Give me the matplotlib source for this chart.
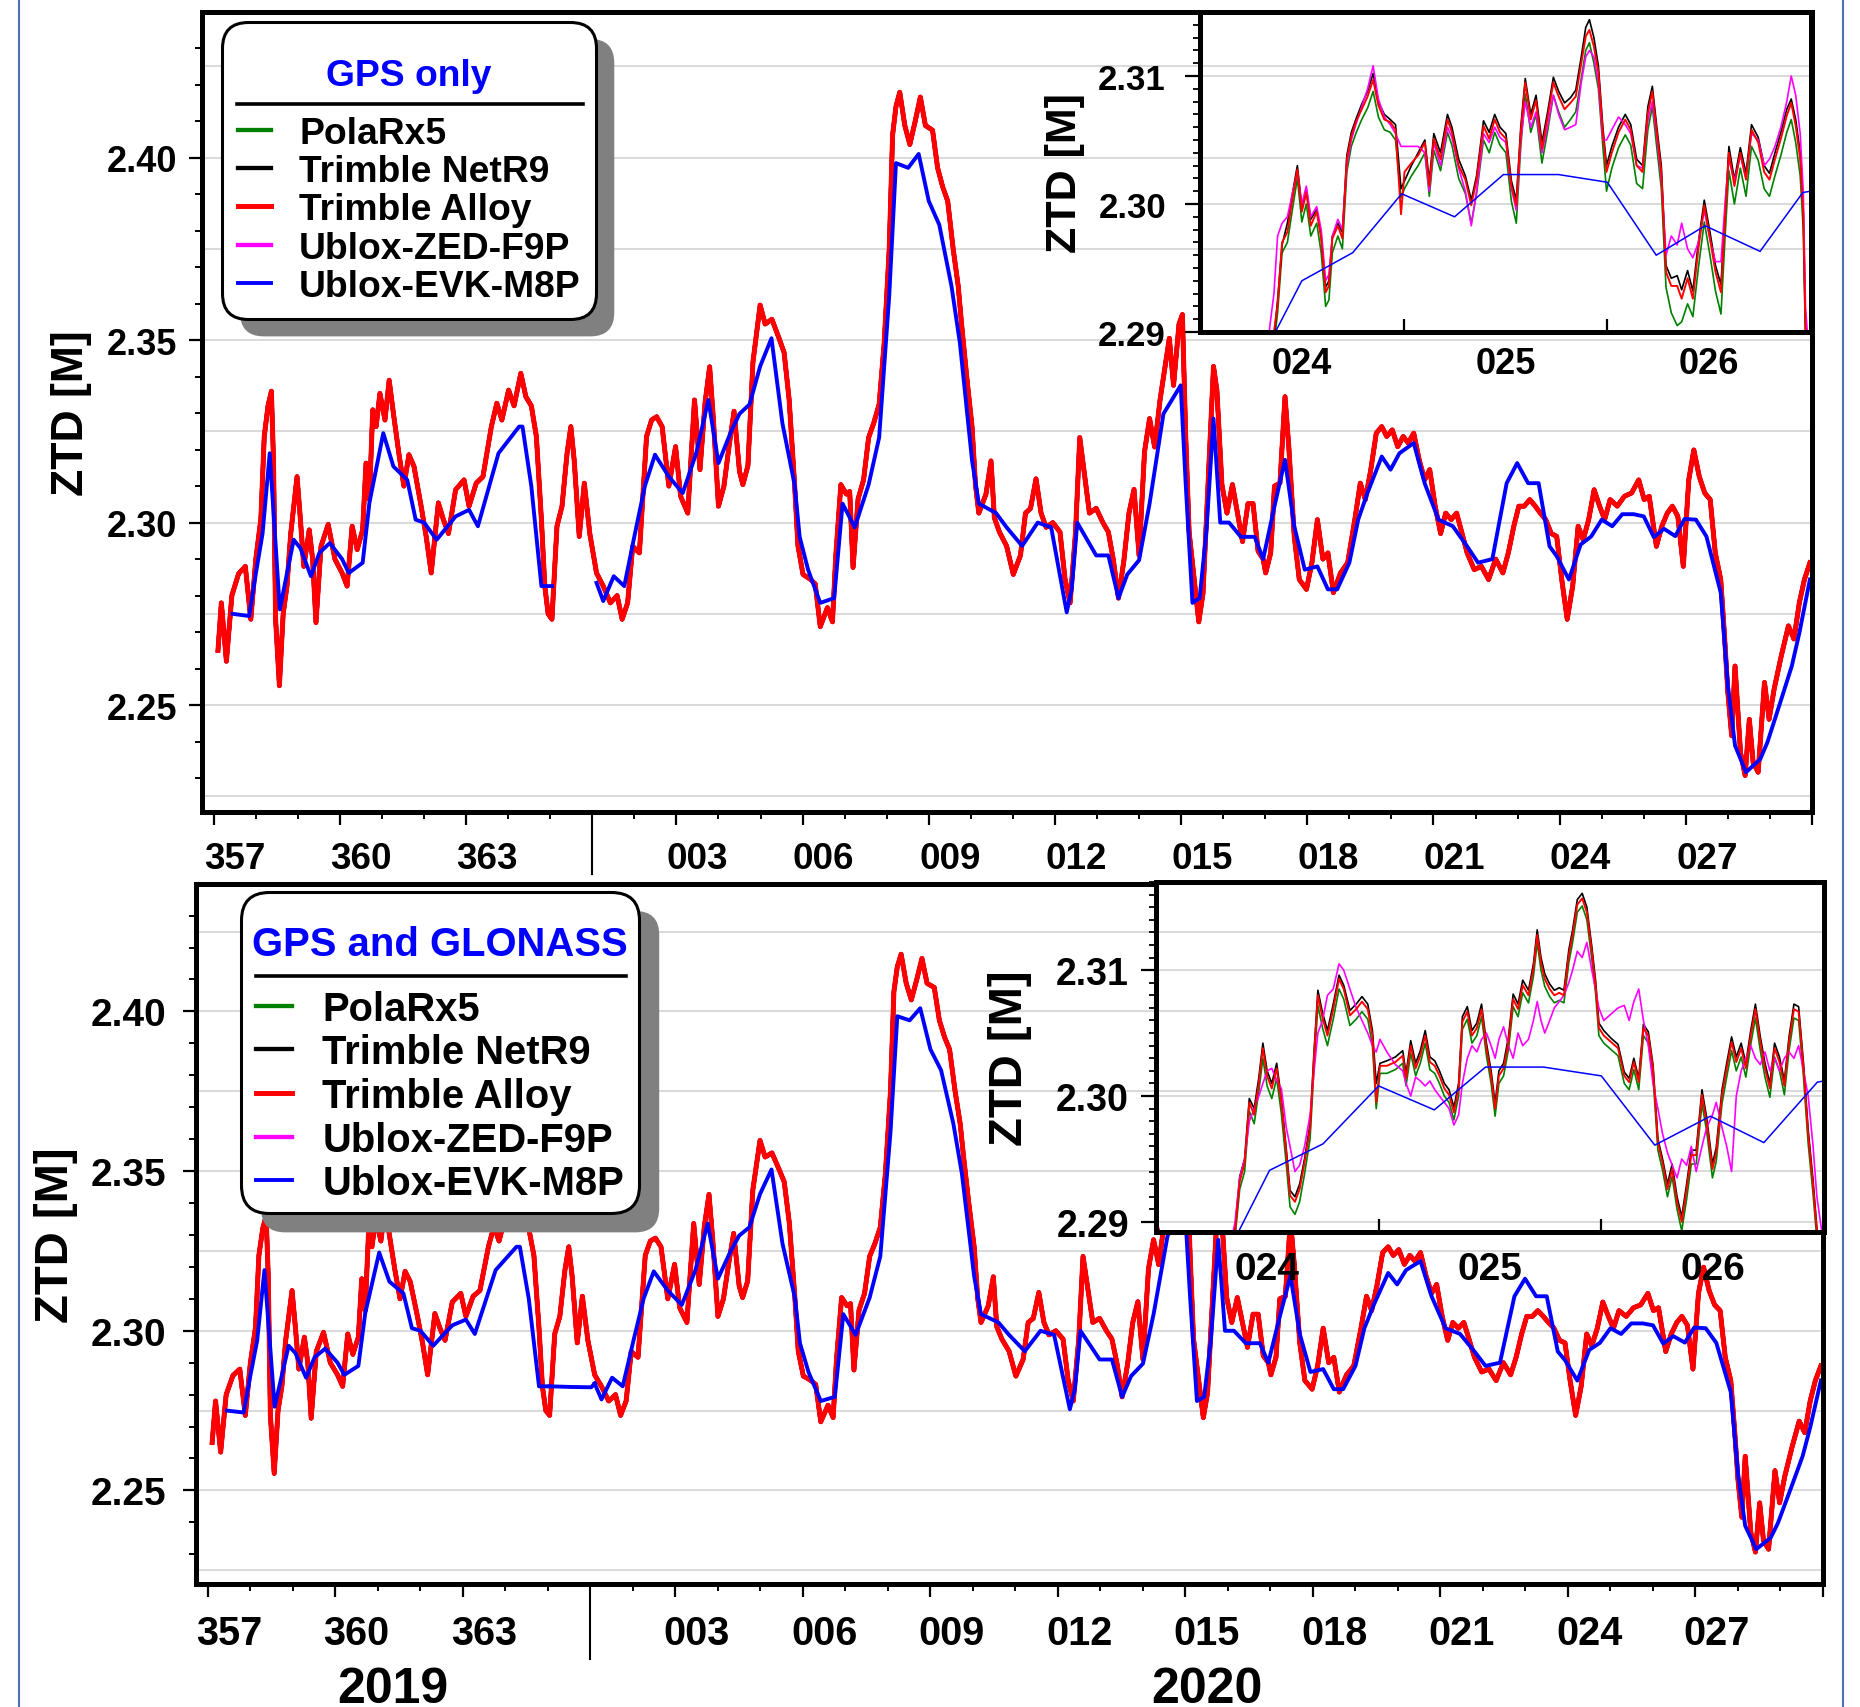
import numpy as np
import matplotlib.pyplot as plt
from matplotlib.lines import Line2D
from matplotlib.patches import FancyBboxPatch
from matplotlib.transforms import IdentityTransform, blended_transform_factory

plt.rcParams['font.family'] = ['Liberation Sans', 'DejaVu Sans']
plt.rcParams['font.weight'] = 'bold'
plt.rcParams['axes.labelweight'] = 'bold'

receivers = ['PolaRx5', 'Trimble NetR9', 'Trimble Alloy', 'Ublox-ZED-F9P', 'Ublox-EVK-M8P']
colors = ['#008000', 'black', 'red', 'magenta', 'blue']

# running day number: 2019 DOY, then 2020 continues at 366 (= 001)
year_start_2020 = 366
label_days = [357, 360, 363, 368, 371, 374, 377, 380, 383, 386, 389, 392]
day_labels = ['357', '360', '363', '003', '006', '009', '012', '015', '018', '021', '024', '027']
major_days = [357, 360, 363, 368, 371, 374, 377, 380, 383, 386, 389, 392, 395]
zoom_labels = ['024', '025', '026']
ztd_ticks = [2.25, 2.30, 2.35, 2.40]
grid_levels = [2.225, 2.25, 2.275, 2.30, 2.325, 2.35, 2.375, 2.40, 2.425]

# ---- ZTD over the whole campaign (PolaRx5 / NetR9 / Alloy / ZED-F9P overlap at this scale)
days_main = [
    357.10, 357.18, 357.30, 357.43, 357.59, 357.75, 357.88, 358.00, 358.12, 358.20,
    358.29, 358.37, 358.42, 358.47, 358.56, 358.65, 358.74, 358.83, 358.98, 359.06,
    359.14, 359.27, 359.35, 359.43, 359.55, 359.72, 359.88, 360.05, 360.17, 360.29,
    360.41, 360.54, 360.62, 360.70, 360.78, 360.86, 360.95, 361.07, 361.17, 361.27,
    361.40, 361.52, 361.64, 361.76, 361.93, 362.05, 362.17, 362.34, 362.46, 362.58,
    362.75, 362.95, 363.07, 363.24, 363.40, 363.52, 363.60, 363.73, 363.85, 364.01,
    364.14, 364.30, 364.42, 364.55, 364.67, 364.79, 364.87, 364.95, 365.04, 365.16,
    365.28, 365.40, 365.49, 365.57, 365.69, 365.81, 365.94, 366.10, 366.26, 366.43,
    366.59, 366.71, 366.84, 366.96, 367.12, 367.29, 367.41, 367.53, 367.66, 367.82,
    367.98, 368.10, 368.27, 368.43, 368.56, 368.68, 368.79, 368.88, 369.00, 369.13,
    369.25, 369.37, 369.50, 369.58, 369.70, 369.82, 369.99, 370.11, 370.27, 370.44,
    370.56, 370.68, 370.81, 370.89, 371.01, 371.18, 371.30, 371.42, 371.59, 371.71,
    371.79, 371.91, 372.04, 372.12, 372.20, 372.32, 372.45, 372.57, 372.69, 372.82,
    372.94, 373.06, 373.14, 373.22, 373.31, 373.43, 373.55, 373.68, 373.80, 373.92,
    374.09, 374.21, 374.33, 374.45, 374.58, 374.70, 374.78, 374.90, 375.03, 375.11,
    375.19, 375.36, 375.48, 375.56, 375.68, 375.85, 376.01, 376.18, 376.30, 376.42,
    376.55, 376.67, 376.79, 376.95, 377.12, 377.24, 377.36, 377.49, 377.59, 377.69,
    377.82, 377.98, 378.14, 378.27, 378.39, 378.51, 378.64, 378.76, 378.88, 379.00,
    379.13, 379.25, 379.37, 379.50, 379.62, 379.72, 379.82, 379.95, 380.03, 380.11,
    380.19, 380.31, 380.42, 380.52, 380.64, 380.77, 380.85, 380.97, 381.09, 381.22,
    381.34, 381.46, 381.59, 381.71, 381.83, 381.95, 382.01, 382.13, 382.22, 382.35,
    382.47, 382.56, 382.69, 382.81, 382.98, 383.11, 383.24, 383.37, 383.49, 383.62,
    383.79, 383.96, 384.13, 384.26, 384.38, 384.51, 384.64, 384.77, 384.89, 385.02,
    385.15, 385.28, 385.40, 385.53, 385.66, 385.79, 385.91, 386.04, 386.17, 386.29,
    386.42, 386.55, 386.68, 386.80, 386.97, 387.14, 387.31, 387.48, 387.65, 387.78,
    387.91, 388.03, 388.16, 388.29, 388.42, 388.54, 388.67, 388.80, 388.93, 389.05,
    389.18, 389.31, 389.44, 389.56, 389.69, 389.82, 389.95, 390.07, 390.20, 390.37,
    390.54, 390.71, 390.88, 391.01, 391.13, 391.30, 391.43, 391.56, 391.68, 391.81,
    391.94, 392.07, 392.19, 392.32, 392.45, 392.58, 392.70, 392.83, 392.92, 393.00,
    393.09, 393.17, 393.30, 393.41, 393.51, 393.60, 393.72, 393.87, 393.98, 394.10,
    394.27, 394.44, 394.57, 394.70, 394.82, 394.95,
]
ztd_main = [
    2.2650, 2.2780, 2.2620, 2.2800, 2.2860, 2.2880, 2.2735, 2.2900, 2.3010, 2.3236,
    2.3320, 2.3360, 2.3170, 2.2735, 2.2553, 2.2750, 2.2826, 2.2970, 2.3126, 2.3008,
    2.2880, 2.2980, 2.2900, 2.2726, 2.2935, 2.2995, 2.2900, 2.2862, 2.2826, 2.2990,
    2.2926, 2.2980, 2.3163, 2.3063, 2.3309, 2.3263, 2.3354, 2.3281, 2.3390, 2.3300,
    2.3190, 2.3100, 2.3186, 2.3154, 2.3045, 2.2962, 2.2862, 2.3054, 2.3008, 2.2970,
    2.3090, 2.3117, 2.3045, 2.3108, 2.3126, 2.3208, 2.3263, 2.3327, 2.3281, 2.3363,
    2.3320, 2.3409, 2.3345, 2.3320, 2.3236, 2.3008, 2.2826, 2.2750, 2.2735, 2.2990,
    2.3045, 2.3190, 2.3263, 2.3170, 2.2962, 2.3108, 2.2970, 2.2862, 2.2826, 2.2780,
    2.2800, 2.2735, 2.2780, 2.2935, 2.2917, 2.3236, 2.3281, 2.3290, 2.3263, 2.3100,
    2.3208, 2.3072, 2.3026, 2.3336, 2.3145, 2.3327, 2.3427, 2.3281, 2.3045, 2.3100,
    2.3208, 2.3305, 2.3140, 2.3104, 2.3156, 2.3440, 2.3596, 2.3544, 2.3557, 2.3505,
    2.3466, 2.3337, 2.3104, 2.2936, 2.2858, 2.2845, 2.2832, 2.2715, 2.2767, 2.2728,
    2.2910, 2.3104, 2.3078, 2.3085, 2.2877, 2.3065, 2.3117, 2.3233, 2.3272, 2.3324,
    2.3492, 2.3750, 2.4062, 2.4140, 2.4179, 2.4088, 2.4036, 2.4101, 2.4166, 2.4088,
    2.4075, 2.3972, 2.3920, 2.3881, 2.3750, 2.3648, 2.3544, 2.3402, 2.3261, 2.3104,
    2.3026, 2.3078, 2.3169, 2.3013, 2.2974, 2.2936, 2.2858, 2.2910, 2.3026, 2.3039,
    2.3120, 2.3026, 2.2987, 2.3000, 2.2974, 2.2845, 2.2780, 2.2974, 2.3233, 2.3143,
    2.3026, 2.3039, 2.3000, 2.2974, 2.2897, 2.2793, 2.2897, 2.3026, 2.3091, 2.2910,
    2.3194, 2.3285, 2.3207, 2.3337, 2.3428, 2.3505, 2.3376, 2.3544, 2.3570, 2.3233,
    2.2974, 2.2845, 2.2728, 2.2806, 2.3104, 2.3428, 2.3363, 2.3104, 2.3026, 2.3104,
    2.3026, 2.2948, 2.3052, 2.3052, 2.2922, 2.2900, 2.2862, 2.2917, 2.3100, 2.3108,
    2.3345, 2.3208, 2.2962, 2.2844, 2.2817, 2.2890, 2.3008, 2.2900, 2.2917, 2.2808,
    2.2862, 2.2890, 2.3008, 2.3108, 2.3063, 2.3145, 2.3245, 2.3263, 2.3236, 2.3254,
    2.3208, 2.3236, 2.3218, 2.3245, 2.3172, 2.3117, 2.3145, 2.3045, 2.2970, 2.3026,
    2.3008, 2.3026, 2.2970, 2.2917, 2.2871, 2.2880, 2.2844, 2.2900, 2.2862, 2.2917,
    2.2990, 2.3045, 2.3045, 2.3063, 2.3045, 2.3026, 2.3008, 2.2970, 2.2962, 2.2844,
    2.2735, 2.2826, 2.2990, 2.2953, 2.3008, 2.3090, 2.3045, 2.3008, 2.3063, 2.3045,
    2.3072, 2.3081, 2.3117, 2.3063, 2.3072, 2.2935, 2.2990, 2.3026, 2.3045, 2.3017,
    2.2880, 2.3117, 2.3199, 2.3126, 2.3081, 2.3063, 2.2917, 2.2844, 2.2689, 2.2534,
    2.2416, 2.2607, 2.2370, 2.2307, 2.2461, 2.2343, 2.2316, 2.2562, 2.2461, 2.2544,
    2.2635, 2.2717, 2.2681, 2.2781, 2.2844, 2.2890,
]

# Ublox-EVK-M8P, sparser; no GPS-only solution around the turn of the year
days_m8p = [
    357.45, 357.84, 358.00, 358.16, 358.33, 358.57, 358.90, 359.06, 359.31, 359.51,
    359.76, 360.05, 360.21, 360.54, 360.70, 361.03, 361.27, 361.60, 361.80, 362.00,
    362.30, 362.75, 363.07, 363.28, 363.77, 364.26, 364.34, 364.55, 364.79, 365.04,
    365.50, 366.10, 366.26, 366.51, 366.76, 367.00, 367.25, 367.49, 367.82, 368.15,
    368.47, 368.76, 369.00, 369.29, 369.50, 369.74, 369.99, 370.26, 370.52, 370.81,
    370.93, 371.13, 371.42, 371.75, 371.95, 372.24, 372.57, 372.82, 373.06, 373.22,
    373.51, 373.76, 374.00, 374.25, 374.54, 374.74, 375.03, 375.19, 375.60, 375.85,
    376.22, 376.59, 376.91, 377.28, 377.40, 377.53, 377.98, 378.27, 378.51, 378.72,
    379.00, 379.25, 379.58, 379.99, 380.11, 380.27, 380.44, 380.60, 380.77, 380.93,
    381.14, 381.42, 381.75, 381.95, 382.22, 382.47, 382.69, 382.94, 383.24, 383.49,
    383.71, 384.00, 384.21, 384.43, 384.77, 384.98, 385.19, 385.53, 385.79, 386.12,
    386.46, 386.80, 387.06, 387.40, 387.74, 387.99, 388.25, 388.50, 388.76, 388.93,
    389.22, 389.50, 389.75, 390.00, 390.25, 390.49, 390.76, 391.00, 391.24, 391.48,
    391.75, 391.97, 392.24, 392.49, 392.83, 393.00, 393.17, 393.43, 393.77, 393.94,
    394.27, 394.52, 394.70, 394.95,
]
ztd_m8p = [
    2.2750, 2.2744, 2.2860, 2.2970, 2.3190, 2.2762, 2.2953, 2.2930, 2.2853, 2.2917,
    2.2944, 2.2900, 2.2862, 2.2890, 2.3054, 2.3245, 2.3154, 2.3117, 2.3008, 2.3000,
    2.2953, 2.3017, 2.3035, 2.2990, 2.3190, 2.3263, 2.3263, 2.3100, 2.2826, 2.2826,
    np.nan, 2.2835, 2.2785, 2.2853, 2.2826, 2.2962, 2.3100, 2.3186, 2.3126, 2.3081,
    2.3190, 2.3336, 2.3163, 2.3247, 2.3298, 2.3324, 2.3428, 2.3505, 2.3272, 2.3104,
    2.2961, 2.2871, 2.2780, 2.2793, 2.3052, 2.2987, 2.3104, 2.3233, 2.3622, 2.3985,
    2.3972, 2.4010, 2.3881, 2.3816, 2.3648, 2.3492, 2.3169, 2.3052, 2.3026, 2.2987,
    2.2936, 2.3000, 2.2987, 2.2754, 2.2819, 2.3000, 2.2910, 2.2910, 2.2793, 2.2858,
    2.2897, 2.3052, 2.3298, 2.3376, 2.3104, 2.2780, 2.2793, 2.2974, 2.3285, 2.3000,
    2.3000, 2.2961, 2.2961, 2.2900, 2.3045, 2.3172, 2.2990, 2.2871, 2.2880, 2.2817,
    2.2817, 2.2890, 2.3008, 2.3081, 2.3181, 2.3145, 2.3190, 2.3218, 2.3108, 2.3008,
    2.2990, 2.2935, 2.2890, 2.2900, 2.3108, 2.3163, 2.3108, 2.3108, 2.2935, 2.2908,
    2.2844, 2.2940, 2.2962, 2.3008, 2.2990, 2.3023, 2.3023, 2.3017, 2.2960, 2.2983,
    2.2963, 2.3010, 2.3008, 2.2962, 2.2808, 2.2553, 2.2389, 2.2316, 2.2352, 2.2398,
    2.2516, 2.2607, 2.2698, 2.2844,
]
# GPS+GLONASS M8P bridges the new-year gap
days_m8p_glo_gap = [365.04, 365.55, 366.02, 366.10]
ztd_m8p_glo_gap = [2.2826, 2.2824, 2.2823, 2.2835]

# ---- close-up, DOY 024-026, GPS only
days_zoom_gps = [
    389.00, 389.18, 389.30,
    389.363, 389.381, 389.403, 389.429, 389.456, 389.478, 389.500, 389.522, 389.544, 389.573,
    389.595, 389.617, 389.633, 389.650, 389.677, 389.699, 389.721, 389.743, 389.765, 389.794,
    389.823, 389.850, 389.876, 389.905, 389.934, 389.960, 389.987, 390.004, 390.038, 390.071,
    390.104, 390.126, 390.148, 390.181, 390.215, 390.237, 390.270, 390.303, 390.332, 390.358,
    390.392, 390.420, 390.447, 390.473, 390.502, 390.529, 390.553, 390.575, 390.597, 390.624,
    390.650, 390.679, 390.708, 390.735, 390.761, 390.790, 390.819, 390.845, 390.872, 390.894,
    390.912, 390.934, 390.956, 390.978, 390.996, 391.022, 391.055, 391.088, 391.115, 391.144,
    391.173, 391.199, 391.221, 391.243, 391.265, 391.288, 391.314, 391.343, 391.365, 391.394,
    391.420, 391.447, 391.476, 391.504, 391.531, 391.558, 391.580, 391.597, 391.624, 391.653,
    391.681, 391.708, 391.741, 391.770, 391.796, 391.823, 391.852, 391.881, 391.903, 391.925,
    391.947, 391.962, 391.973, 392.000,
]
zoom_gps_polarx = [
    2.2900, 2.2730, 2.2825,
    2.2890, 2.2915, 2.2962, 2.2970, 2.2998, 2.3020, 2.2986, 2.3000, 2.2975, 2.2985,
    2.2962, 2.2920, 2.2925, 2.2962, 2.2975, 2.2965, 2.3025, 2.3045, 2.3055, 2.3066,
    2.3075, 2.3088, 2.3068, 2.3058, 2.3056, 2.3050, 2.3005, 2.3012, 2.3022, 2.3030,
    2.3040, 2.3006, 2.3042, 2.3026, 2.3056, 2.3046, 2.3020, 2.3008, 2.2985, 2.3008,
    2.3050, 2.3040, 2.3056, 2.3046, 2.3040, 2.3002, 2.2985, 2.3045, 2.3086, 2.3056,
    2.3070, 2.3032, 2.3058, 2.3085, 2.3072, 2.3060, 2.3066, 2.3072, 2.3098, 2.3120,
    2.3126, 2.3110, 2.3090, 2.3045, 2.3010, 2.3028, 2.3044, 2.3054, 2.3046, 2.3016,
    2.3012, 2.3058, 2.3076, 2.3044, 2.3012, 2.2935, 2.2915, 2.2905, 2.2908, 2.2922,
    2.2912, 2.2950, 2.2986, 2.2960, 2.2932, 2.2914, 2.2980, 2.3026, 2.3000, 2.3028,
    2.3006, 2.3045, 2.3034, 2.3012, 2.3006, 2.3022, 2.3038, 2.3056, 2.3066, 2.3048,
    2.3022, 2.2980, 2.2895, 2.2845,
]
zoom_gps_netr9 = [
    2.2902, 2.2735, 2.2830,
    2.2895, 2.2925, 2.2968, 2.2985, 2.3010, 2.3030, 2.2998, 2.3012, 2.2988, 2.2996,
    2.2975, 2.2935, 2.2940, 2.2975, 2.2985, 2.2978, 2.3038, 2.3056, 2.3066, 2.3078,
    2.3088, 2.3102, 2.3080, 2.3070, 2.3066, 2.3062, 2.3012, 2.3018, 2.3030, 2.3040,
    2.3050, 2.3018, 2.3055, 2.3040, 2.3070, 2.3060, 2.3035, 2.3022, 2.3003, 2.3022,
    2.3065, 2.3056, 2.3070, 2.3060, 2.3055, 2.3018, 2.3003, 2.3060, 2.3098, 2.3070,
    2.3085, 2.3048, 2.3073, 2.3099, 2.3088, 2.3079, 2.3083, 2.3089, 2.3115, 2.3138,
    2.3144, 2.3130, 2.3108, 2.3060, 2.3030, 2.3045, 2.3060, 2.3070, 2.3062, 2.3035,
    2.3030, 2.3076, 2.3092, 2.3060, 2.3030, 2.2952, 2.2942, 2.2944, 2.2933, 2.2948,
    2.2932, 2.2970, 2.3003, 2.2978, 2.2952, 2.2937, 2.2999, 2.3045, 2.3019, 2.3044,
    2.3024, 2.3062, 2.3052, 2.3030, 2.3024, 2.3040, 2.3056, 2.3074, 2.3082, 2.3066,
    2.3040, 2.2996, 2.2905, 2.2855,
]
zoom_gps_alloy = [
    2.2902, 2.2735, 2.2830,
    2.2900, 2.2921, 2.2970, 2.2978, 2.3006, 2.3027, 2.2994, 2.3009, 2.2983, 2.2994,
    2.2973, 2.2931, 2.2936, 2.2973, 2.2983, 2.2973, 2.3035, 2.3053, 2.3064, 2.3074,
    2.3084, 2.3097, 2.3077, 2.3066, 2.3064, 2.3058, 2.2992, 2.3025, 2.3032, 2.3038,
    2.3048, 2.3014, 2.3051, 2.3035, 2.3066, 2.3056, 2.3030, 2.3019, 2.2999, 2.3019,
    2.3061, 2.3051, 2.3066, 2.3056, 2.3051, 2.3014, 2.2999, 2.3056, 2.3095, 2.3066,
    2.3081, 2.3043, 2.3069, 2.3095, 2.3084, 2.3074, 2.3079, 2.3084, 2.3110, 2.3131,
    2.3136, 2.3123, 2.3103, 2.3056, 2.3025, 2.3040, 2.3056, 2.3066, 2.3058, 2.3030,
    2.3025, 2.3071, 2.3088, 2.3056, 2.3025, 2.2947, 2.2936, 2.2936, 2.2926, 2.2942,
    2.2926, 2.2965, 2.2999, 2.2973, 2.2947, 2.2931, 2.2994, 2.3040, 2.3014, 2.3040,
    2.3019, 2.3058, 2.3048, 2.3025, 2.3019, 2.3035, 2.3051, 2.3069, 2.3079, 2.3061,
    2.3035, 2.2992, 2.2900, 2.2850,
]
zoom_gps_zed = [
    2.2905, 2.2740, 2.2850,
    2.2930, 2.2975, 2.2985, 2.2990, 2.3010, 2.3025, 2.3000, 2.3014, 2.2990, 2.2998,
    2.2980, 2.2940, 2.2945, 2.2975, 2.2988, 2.2980, 2.3030, 2.3050, 2.3062, 2.3076,
    2.3090, 2.3108, 2.3082, 2.3068, 2.3062, 2.3055, 2.3045, 2.3045, 2.3045, 2.3045,
    2.3040, 2.3010, 2.3048, 2.3030, 2.3060, 2.3052, 2.3028, 2.3010, 2.2983, 2.3010,
    2.3055, 2.3048, 2.3060, 2.3052, 2.3048, 2.3012, 2.2995, 2.3050, 2.3080, 2.3060,
    2.3072, 2.3040, 2.3062, 2.3085, 2.3070, 2.3058, 2.3060, 2.3062, 2.3095, 2.3115,
    2.3120, 2.3115, 2.3095, 2.3050, 2.3050, 2.3058, 2.3068, 2.3062, 2.3055, 2.3030,
    2.3028, 2.3065, 2.3080, 2.3052, 2.3020, 2.2960, 2.2975, 2.2968, 2.2985, 2.2965,
    2.2958, 2.2970, 2.2995, 2.2972, 2.2955, 2.2955, 2.3005, 2.3035, 2.3018, 2.3038,
    2.3020, 2.3055, 2.3050, 2.3030, 2.3035, 2.3045, 2.3060, 2.3080, 2.3100, 2.3085,
    2.3055, 2.3010, 2.2920, 2.2860,
]
days_zoom_gps_m8p = [389.00, 389.22, 389.37, 389.50, 389.75, 389.99, 390.25, 390.49,
                     390.76, 391.00, 391.24, 391.48, 391.75, 391.96, 392.00]
zoom_gps_m8p = [2.2895, 2.2844, 2.2900, 2.2940, 2.2962, 2.3008, 2.2990, 2.3023,
                2.3023, 2.3017, 2.2960, 2.2983, 2.2963, 2.3009, 2.3010]

# ---- close-up, DOY 024-026, GPS + GLONASS
days_zoom_glo = [
    389.00, 389.18, 389.30,
    389.355, 389.376, 389.398, 389.419, 389.441, 389.462, 389.480, 389.499, 389.520, 389.542,
    389.563, 389.585, 389.602, 389.624, 389.645, 389.667, 389.692, 389.710, 389.727, 389.748,
    389.770, 389.796, 389.822, 389.843, 389.871, 389.899, 389.925, 389.951, 389.972, 389.989,
    390.006, 390.037, 390.075, 390.108, 390.123, 390.144, 390.166, 390.187, 390.209, 390.230,
    390.252, 390.273, 390.295, 390.316, 390.338, 390.359, 390.376, 390.398, 390.419, 390.441,
    390.462, 390.484, 390.505, 390.523, 390.540, 390.561, 390.583, 390.604, 390.626, 390.647,
    390.673, 390.695, 390.712, 390.729, 390.746, 390.768, 390.789, 390.811, 390.832, 390.854,
    390.871, 390.892, 390.914, 390.935, 390.957, 390.974, 390.989, 391.011, 391.043, 391.075,
    391.103, 391.125, 391.146, 391.168, 391.189, 391.211, 391.232, 391.254, 391.275, 391.297,
    391.318, 391.340, 391.361, 391.383, 391.404, 391.426, 391.452, 391.473, 391.499, 391.516,
    391.542, 391.563, 391.585, 391.606, 391.628, 391.649, 391.671, 391.692, 391.714, 391.735,
    391.757, 391.778, 391.800, 391.822, 391.843, 391.865, 391.886, 391.908, 391.929, 391.951,
    391.968, 392.000,
]
zoom_glo_polarx = [
    2.2900, 2.2730, 2.2825,
    2.2888, 2.2926, 2.2940, 2.2988, 2.2978, 2.3004, 2.3030, 2.3008, 2.2998, 2.3014,
    2.2986, 2.2946, 2.2912, 2.2906, 2.2916, 2.2938, 2.2966, 2.3024, 2.3072, 2.3054,
    2.3040, 2.3061, 2.3085, 2.3077, 2.3056, 2.3061, 2.3067, 2.3061, 2.3040, 2.2990,
    2.3018, 2.3018, 2.3021, 2.3026, 2.3008, 2.3034, 2.3016, 2.3026, 2.3042, 2.3021,
    2.3018, 2.3010, 2.3000, 2.2995, 2.2981, 2.3000, 2.3053, 2.3061, 2.3042, 2.3048,
    2.3063, 2.3032, 2.3010, 2.2984, 2.3010, 2.3016, 2.3037, 2.3071, 2.3063, 2.3082,
    2.3074, 2.3095, 2.3122, 2.3100, 2.3087, 2.3079, 2.3074, 2.3076, 2.3074, 2.3106,
    2.3122, 2.3146, 2.3151, 2.3140, 2.3109, 2.3082, 2.3048, 2.3042, 2.3037, 2.3032,
    2.3010, 2.3005, 2.3021, 2.3005, 2.3048, 2.3042, 2.3016, 2.2957, 2.2941, 2.2920,
    2.2936, 2.2910, 2.2893, 2.2918, 2.2946, 2.2946, 2.2994, 2.2972, 2.2935, 2.2948,
    2.2994, 2.3015, 2.3036, 2.3020, 2.3031, 2.3015, 2.3041, 2.3062, 2.3036, 2.3015,
    2.2999, 2.3031, 2.3020, 2.3001, 2.3036, 2.3062, 2.3060, 2.3015, 2.2962, 2.2922,
    2.2886, 2.2845,
]
zoom_glo_netr9 = [
    2.2905, 2.2735, 2.2830,
    2.2895, 2.2936, 2.2950, 2.2998, 2.2990, 2.3015, 2.3042, 2.3020, 2.3010, 2.3026,
    2.2998, 2.2958, 2.2925, 2.2920, 2.2930, 2.2950, 2.2978, 2.3036, 2.3084, 2.3066,
    2.3052, 2.3073, 2.3096, 2.3088, 2.3068, 2.3073, 2.3079, 2.3073, 2.3052, 2.3010,
    2.3026, 2.3028, 2.3031, 2.3036, 2.3018, 2.3044, 2.3026, 2.3036, 2.3052, 2.3031,
    2.3028, 2.3020, 2.3010, 2.3005, 2.2991, 2.3010, 2.3063, 2.3071, 2.3052, 2.3058,
    2.3073, 2.3042, 2.3020, 2.2994, 2.3020, 2.3026, 2.3047, 2.3081, 2.3073, 2.3092,
    2.3084, 2.3105, 2.3132, 2.3110, 2.3097, 2.3089, 2.3084, 2.3086, 2.3084, 2.3116,
    2.3132, 2.3156, 2.3161, 2.3150, 2.3119, 2.3092, 2.3058, 2.3052, 2.3046, 2.3041,
    2.3019, 2.3014, 2.3030, 2.3014, 2.3057, 2.3051, 2.3025, 2.2966, 2.2950, 2.2930,
    2.2946, 2.2920, 2.2904, 2.2930, 2.2957, 2.2957, 2.3005, 2.2983, 2.2946, 2.2959,
    2.3005, 2.3026, 2.3047, 2.3031, 2.3042, 2.3026, 2.3052, 2.3073, 2.3047, 2.3026,
    2.3010, 2.3042, 2.3031, 2.3012, 2.3047, 2.3073, 2.3071, 2.3026, 2.2973, 2.2933,
    2.2895, 2.2853,
]
zoom_glo_alloy = [
    2.2905, 2.2735, 2.2830,
    2.2892, 2.2932, 2.2947, 2.2995, 2.2985, 2.3011, 2.3038, 2.3016, 2.3006, 2.3022,
    2.2995, 2.2955, 2.2921, 2.2916, 2.2926, 2.2947, 2.2974, 2.3032, 2.3080, 2.3062,
    2.3048, 2.3069, 2.3093, 2.3085, 2.3064, 2.3069, 2.3075, 2.3069, 2.3048, 2.2995,
    2.3024, 2.3024, 2.3027, 2.3032, 2.3014, 2.3040, 2.3022, 2.3032, 2.3048, 2.3027,
    2.3024, 2.3016, 2.3006, 2.3001, 2.2987, 2.3006, 2.3059, 2.3067, 2.3048, 2.3054,
    2.3069, 2.3038, 2.3016, 2.2990, 2.3016, 2.3022, 2.3043, 2.3077, 2.3069, 2.3088,
    2.3080, 2.3101, 2.3128, 2.3106, 2.3093, 2.3085, 2.3080, 2.3082, 2.3080, 2.3112,
    2.3128, 2.3152, 2.3157, 2.3146, 2.3115, 2.3088, 2.3054, 2.3048, 2.3043, 2.3038,
    2.3016, 2.3011, 2.3027, 2.3011, 2.3054, 2.3048, 2.3022, 2.2963, 2.2947, 2.2926,
    2.2942, 2.2916, 2.2900, 2.2926, 2.2953, 2.2953, 2.3001, 2.2979, 2.2942, 2.2955,
    2.3001, 2.3022, 2.3043, 2.3027, 2.3038, 2.3022, 2.3048, 2.3069, 2.3043, 2.3022,
    2.3006, 2.3038, 2.3027, 2.3008, 2.3043, 2.3069, 2.3067, 2.3022, 2.2969, 2.2929,
    2.2892, 2.2850,
]
zoom_glo_zed = [
    2.2905, 2.2740, 2.2850,
    2.2900, 2.2935, 2.2950, 2.2980, 2.2990, 2.3000, 2.3010, 2.3020, 2.3022, 2.3012,
    2.3006, 2.2975, 2.2960, 2.2940, 2.2945, 2.2960, 2.2985, 2.3020, 2.3050, 2.3060,
    2.3080, 2.3085, 2.3105, 2.3100, 2.3085, 2.3070, 2.3060, 2.3050, 2.3040, 2.3035,
    2.3045, 2.3035, 2.3025, 2.3020, 2.3010, 2.3000, 2.3015, 2.3012, 2.3008, 2.3012,
    2.3005, 2.3000, 2.2995, 2.2990, 2.2977, 2.2985, 2.3010, 2.3030, 2.3040, 2.3035,
    2.3045, 2.3050, 2.3040, 2.3030, 2.3045, 2.3055, 2.3040, 2.3030, 2.3050, 2.3040,
    2.3045, 2.3060, 2.3075, 2.3060, 2.3050, 2.3060, 2.3070, 2.3075, 2.3080, 2.3090,
    2.3100, 2.3115, 2.3110, 2.3122, 2.3100, 2.3085, 2.3070, 2.3060, 2.3065, 2.3070,
    2.3072, 2.3060, 2.3075, 2.3085, 2.3060, 2.3040, 2.3010, 2.2990, 2.2970, 2.2955,
    2.2945, 2.2935, 2.2950, 2.2945, 2.2960, 2.2940, 2.2960, 2.2975, 2.2985, 2.2995,
    2.2975, 2.2960, 2.2940, 2.3000, 2.3020, 2.3030, 2.3040, 2.3030, 2.3025, 2.3035,
    2.3020, 2.3030, 2.3020, 2.3030, 2.3035, 2.3030, 2.3040, 2.3020, 2.3000, 2.2960,
    2.2920, 2.2880,
]
days_zoom_glo_m8p = [389.00, 389.22, 389.37, 389.51, 389.75, 390.00, 390.25, 390.48,
                     390.74, 391.00, 391.24, 391.49, 391.73, 391.97, 392.00]
zoom_glo_m8p = [2.2895, 2.2844, 2.2892, 2.2941, 2.2962, 2.3008, 2.2989, 2.3023,
                2.3023, 2.3016, 2.2961, 2.2984, 2.2963, 2.3011, 2.3012]

GRID = '#d9d9d9'


def style_main(ax, tick_fs, xpad, ypad, label_fs, label_x, year_line):
    ax.set_xlim(356.72, 395.0)
    ax.set_ylim(2.2207, 2.4399)
    for sp in ax.spines.values():
        sp.set_linewidth(3.6)
    for level in grid_levels:
        ax.axhline(level, color=GRID, lw=1.4, zorder=0)
    ax.set_yticks(ztd_ticks, labels=[f'{v:.2f}' for v in ztd_ticks])
    ax.set_yticks(np.arange(2.23, 2.435, 0.01), minor=True)
    ax.set_xticks(major_days, labels=[])
    ax.set_xticks(np.arange(357, 396), minor=True)
    ax.tick_params(which='major', direction='out', length=9.4, width=1.6)
    ax.tick_params(which='minor', direction='out', length=4.8, width=1.4)
    ax.tick_params(axis='y', labelsize=tick_fs, pad=ypad)
    # day labels sit in the middle of each day
    sec = ax.secondary_xaxis('bottom')
    sec.set_xticks([d + 0.5 for d in label_days], labels=day_labels)
    sec.tick_params(length=0, labelsize=tick_fs + 0.5, pad=xpad)
    sec.spines['bottom'].set_visible(False)
    ax.axvline(year_start_2020, ymin=-year_line, ymax=0, color='black', lw=1.5, clip_on=False)
    ax.set_ylabel('ZTD [M]', fontsize=label_fs, va='center')
    ax.yaxis.set_label_coords(label_x, 0.5)


def style_zoom(ax, main, ylim, tick_fs, xpad, ypad, label_fs, label_x):
    ax.set_facecolor('white')
    ax.set_xlim(389, 392)
    ax.set_ylim(*ylim)
    for sp in ax.spines.values():
        sp.set_linewidth(3.6)
    zt = [2.29, 2.30, 2.31]
    for level in zt:
        ax.axhline(level, color=GRID, lw=1.4, zorder=0)
    # the main panel grid carries on behind the close-up
    for level in grid_levels:
        disp = main.transData.transform((390.0, level))
        y_in = ax.transData.inverted().transform(disp)[1]
        if ylim[0] < y_in < ylim[1]:
            ax.axhline(y_in, color=GRID, lw=1.4, zorder=0)
    ax.set_yticks(zt, labels=[f'{v:.2f}' for v in zt])
    ax.set_yticks(np.arange(2.290, ylim[1], 0.001), minor=True)
    ax.tick_params(axis='y', which='major', direction='out', length=10.8, width=1.6,
                   labelsize=tick_fs, pad=ypad)
    ax.tick_params(axis='y', which='minor', direction='out', length=5, width=1.3)
    ax.set_xticks([390, 391], labels=[])
    ax.tick_params(axis='x', direction='in', length=9.4, width=1.6)
    sec = ax.secondary_xaxis('bottom')
    sec.set_xticks([389.5, 390.5, 391.5], labels=zoom_labels)
    sec.tick_params(length=0, labelsize=tick_fs + 1, pad=xpad)
    sec.spines['bottom'].set_visible(False)
    ax.set_ylabel('ZTD [M]', fontsize=label_fs, va='center')
    ax.yaxis.set_label_coords(label_x, 0.5)


def draw_series(ax, days, polarx, netr9, alloy, zed, m8p_days, m8p, lw, lw_m8p):
    lg, = ax.plot(days, polarx, color=colors[0], lw=lw, zorder=2.0)
    lk, = ax.plot(days, netr9, color=colors[1], lw=lw, zorder=2.1)
    lm, = ax.plot(days, zed, color=colors[3], lw=lw, zorder=2.2)
    lr, = ax.plot(days, alloy, color=colors[2], lw=lw * 1.15, zorder=2.3)
    lb, = ax.plot(m8p_days, m8p, color=colors[4], lw=lw_m8p, zorder=2.4)
    return [lg, lk, lr, lm, lb]


def add_key(ax, handles, title, fs, anchor, pad, spacing):
    leg = ax.legend(handles, receivers, loc='upper left', bbox_to_anchor=anchor,
                    fontsize=fs, title='\n' + title + '\n',
                    title_fontproperties={'size': fs, 'weight': 'bold'},
                    handlelength=0.9, handletextpad=0.75, labelspacing=spacing,
                    borderpad=pad, borderaxespad=0, fancybox=True, framealpha=1,
                    edgecolor='black')
    leg.get_title().set_color('blue')
    leg.get_title().set_linespacing(0.45)
    leg.get_frame().set_linewidth(2.2)
    leg.get_frame().set_boxstyle('round', pad=0, rounding_size=0.7)
    return leg


def finish_key(ax, leg, shift):
    box = leg.get_window_extent()
    shade = FancyBboxPatch((box.x0 + shift[0], box.y0 - shift[1]), box.width, box.height,
                           boxstyle='round,pad=0,rounding_size=24',
                           transform=IdentityTransform(), facecolor='#808080',
                           edgecolor='none', zorder=4.9, clip_on=False)
    ax.add_artist(shade)
    head = leg.get_title().get_window_extent()
    first = leg.get_texts()[0].get_window_extent()
    y = 0.5 * ((head.y0 + head.y1) / 2 + (first.y0 + first.y1) / 2)
    rule = Line2D([box.x0 + 15, box.x1 - 13], [y, y], transform=IdentityTransform(),
                  color='black', lw=2.6, zorder=6, clip_on=False)
    ax.add_artist(rule)


fig = plt.figure(figsize=(18.6, 17.08), dpi=100)
W, H = 1860, 1708
ax_gps = fig.add_axes([202 / W, 1 - 813 / H, 1610 / W, 800 / H])
ax_glo = fig.add_axes([196 / W, 1 - 1585 / H, 1627 / W, 700 / H])
in_gps = fig.add_axes([1200 / W, 1 - 333 / H, 611 / W, 320 / H])
in_glo = fig.add_axes([1156 / W, 1 - 1233 / H, 668 / W, 350 / H])

style_main(ax_gps, 26, 21, 8.6, 32, -0.0813, 62 / 800)
style_main(ax_glo, 28, 21.5, 12, 34, -0.086, 75 / 700)
style_zoom(in_gps, ax_gps, (2.29, 2.315), 25, 10, 13.7, 31, -0.221)
style_zoom(in_glo, ax_glo, (2.2892, 2.317), 27, 13.5, 8.6, 34, -0.2186)

h_gps = draw_series(ax_gps, days_main, ztd_main, ztd_main, ztd_main, ztd_main,
                    days_m8p, ztd_m8p, 3.1, 2.8)
h_glo = draw_series(ax_glo, days_main, ztd_main, ztd_main, ztd_main, ztd_main,
                    days_m8p, ztd_m8p, 3.1, 2.8)
ax_glo.plot(days_m8p_glo_gap, ztd_m8p_glo_gap, color=colors[4], lw=2.8, zorder=2.4)

draw_series(in_gps, days_zoom_gps, zoom_gps_polarx, zoom_gps_netr9, zoom_gps_alloy,
            zoom_gps_zed, days_zoom_gps_m8p, zoom_gps_m8p, 1.2, 1.1)
draw_series(in_glo, days_zoom_glo, zoom_glo_polarx, zoom_glo_netr9, zoom_glo_alloy,
            zoom_glo_zed, days_zoom_glo_m8p, zoom_glo_m8p, 1.2, 1.1)

leg_gps = add_key(ax_gps, h_gps, 'GPS only', 26.8, (0.0124, 0.9875), 0.42, 0.085)
leg_glo = add_key(ax_glo, h_glo, 'GPS and GLONASS', 28.8, (0.0277, 0.9886), 0.28, 0.14)

# year captions under the lower panel, centred on each year's span
to_year = blended_transform_factory(ax_glo.transData, ax_glo.transAxes)
x0, x1 = ax_glo.get_xlim()
ax_glo.text((x0 + year_start_2020) / 2, -0.15, '2019', transform=to_year,
            ha='center', va='center', fontsize=36, clip_on=False)
ax_glo.text((year_start_2020 + x1) / 2, -0.15, '2020', transform=to_year,
            ha='center', va='center', fontsize=36, clip_on=False)

# page frame lines
for fx in (19 / W, 1843 / W):
    fig.add_artist(Line2D([fx, fx], [0, 1], transform=fig.transFigure,
                          color='#4e6fb5', lw=1.5))

fig.canvas.draw()
finish_key(ax_gps, leg_gps, (18, 17))
finish_key(ax_glo, leg_glo, (20, 19))

fig.savefig('out.png', dpi=100, facecolor='white')
